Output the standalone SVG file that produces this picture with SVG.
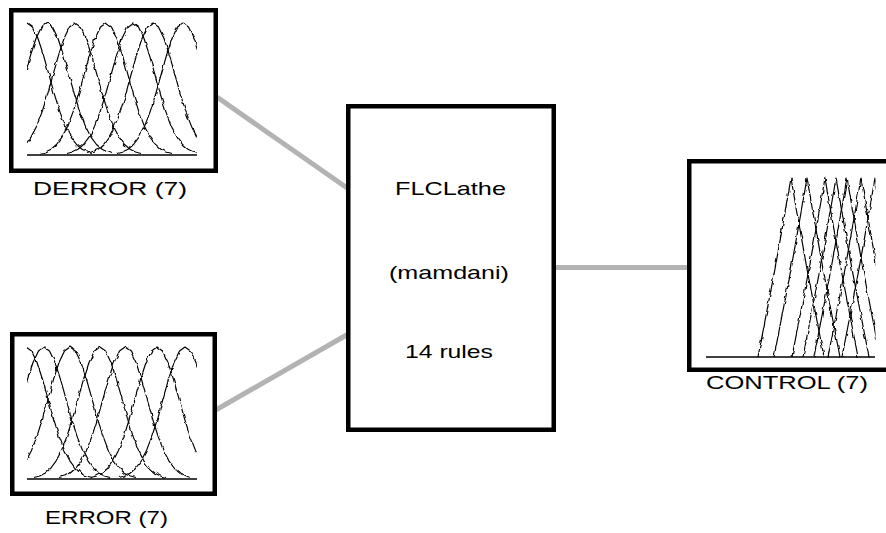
<svg xmlns="http://www.w3.org/2000/svg" xmlns:xlink="http://www.w3.org/1999/xlink" width="886" height="533" viewBox="0 0 886 533">
  <style>
    .box { fill: #ffffff; stroke: #000000; stroke-width: 4.5; }
    .wire { stroke: #b3b3b3; stroke-width: 5; fill: none; }
    .mf { fill: none; stroke: #000000; stroke-width: 1.2; stroke-linejoin: round; }
    .axis { stroke: #000000; stroke-width: 1.5; }
    .lbl { font-family: "Liberation Sans", Arial, sans-serif; font-size: 19px; fill: #000000; text-anchor: middle; }
  </style>
  <defs>
    <!-- bell-shaped membership function, centred at 0, baseline at 0 -->
    <polyline id="bell" points="-66,-1.5 -60.5,-3 -55,-5.8 -49.5,-10.5 -44,-17.9 -38.5,-28.6 -33,-42.9 -27.5,-60.4 -22,-80.1 -16.5,-99.6 -11,-116.5 -5.5,-127.9 0,-132 5.5,-127.9 11,-116.5 16.5,-99.6 22,-80.1 27.5,-60.4 33,-42.9 38.5,-28.6 44,-17.9 49.5,-10.5 55,-5.8 60.5,-3 66,-1.5"/>
    <!-- triangular membership function, centred at 0, baseline at 0 -->
    <polyline id="tri" points="-33,0 -16,-88 -5,-150 0,-179 5,-150 16,-88 33,0"/>
    <clipPath id="clipDerror"><rect x="27" y="15" width="170" height="145"/></clipPath>
    <clipPath id="clipError"><rect x="27" y="339" width="170" height="145"/></clipPath>
    <clipPath id="clipControl"><rect x="706" y="170" width="169.5" height="192"/></clipPath>
    <!-- slight jitter so the curves look like low-resolution plots -->
    <filter id="jag" x="-5%" y="-5%" width="110%" height="110%">
      <feTurbulence type="fractalNoise" baseFrequency="0.18" numOctaves="1" seed="3" result="n"/>
      <feDisplacementMap in="SourceGraphic" in2="n" scale="4" xChannelSelector="R" yChannelSelector="G"/>
    </filter>
  </defs>

  <!-- connectors -->
  <g id="connectors">
    <line class="wire" x1="214" y1="95" x2="350" y2="190"/>
    <line class="wire" x1="214" y1="411" x2="350" y2="333"/>
    <line class="wire" x1="554" y1="267.5" x2="690" y2="267.5"/>
  </g>

  <!-- input: DERROR -->
  <g id="derror">
    <rect class="box" x="11.25" y="10.25" width="204.5" height="160.5"/>
    <g clip-path="url(#clipDerror)">
      <g filter="url(#jag)">
        <use xlink:href="#bell" class="mf" transform="translate(27,155)"/>
        <use xlink:href="#bell" class="mf" transform="translate(47,155)"/>
        <use xlink:href="#bell" class="mf" transform="translate(75,155)"/>
        <use xlink:href="#bell" class="mf" transform="translate(106,155)"/>
        <use xlink:href="#bell" class="mf" transform="translate(133,155)"/>
        <use xlink:href="#bell" class="mf" transform="translate(153,155)"/>
        <use xlink:href="#bell" class="mf" transform="translate(183,155)"/>
      </g>
    </g>
    <line class="axis" x1="27" y1="155" x2="197" y2="155"/>
    <text class="lbl" x="110" y="195" textLength="154" lengthAdjust="spacingAndGlyphs">DERROR (7)</text>
  </g>

  <!-- input: ERROR -->
  <g id="error">
    <rect class="box" x="12.25" y="334.25" width="202.5" height="159.5"/>
    <g clip-path="url(#clipError)">
      <g filter="url(#jag)">
        <use xlink:href="#bell" class="mf" transform="translate(26,479)"/>
        <use xlink:href="#bell" class="mf" transform="translate(44,479)"/>
        <use xlink:href="#bell" class="mf" transform="translate(70,479)"/>
        <use xlink:href="#bell" class="mf" transform="translate(100,479)"/>
        <use xlink:href="#bell" class="mf" transform="translate(125,479)"/>
        <use xlink:href="#bell" class="mf" transform="translate(157,479)"/>
        <use xlink:href="#bell" class="mf" transform="translate(185,479)"/>
      </g>
    </g>
    <line class="axis" x1="27" y1="479" x2="197" y2="479"/>
    <text class="lbl" x="106.5" y="524" textLength="123" lengthAdjust="spacingAndGlyphs">ERROR (7)</text>
  </g>

  <!-- rule block -->
  <g id="flclathe">
    <rect class="box" x="348.25" y="106.25" width="205.5" height="323.5"/>
    <text class="lbl" x="450.5" y="195" textLength="111" lengthAdjust="spacingAndGlyphs">FLCLathe</text>
    <text class="lbl" x="449" y="279" textLength="120" lengthAdjust="spacingAndGlyphs">(mamdani)</text>
    <text class="lbl" x="449" y="358" textLength="88" lengthAdjust="spacingAndGlyphs">14 rules</text>
  </g>

  <!-- output: CONTROL -->
  <g id="control">
    <rect class="box" x="689.25" y="161.25" width="220" height="208.5"/>
    <g clip-path="url(#clipControl)">
      <g filter="url(#jag)">
        <use xlink:href="#tri" class="mf" transform="translate(791,357)"/>
        <use xlink:href="#tri" class="mf" transform="translate(807,357)"/>
        <use xlink:href="#tri" class="mf" transform="translate(825,357)"/>
        <use xlink:href="#tri" class="mf" transform="translate(836,357)"/>
        <use xlink:href="#tri" class="mf" transform="translate(847,357)"/>
        <use xlink:href="#tri" class="mf" transform="translate(861,357)"/>
        <use xlink:href="#tri" class="mf" transform="translate(875,357)"/>
      </g>
    </g>
    <line class="axis" x1="706" y1="357" x2="875" y2="357"/>
    <text class="lbl" x="787" y="389" textLength="162" lengthAdjust="spacingAndGlyphs">CONTROL (7)</text>
  </g>
</svg>
